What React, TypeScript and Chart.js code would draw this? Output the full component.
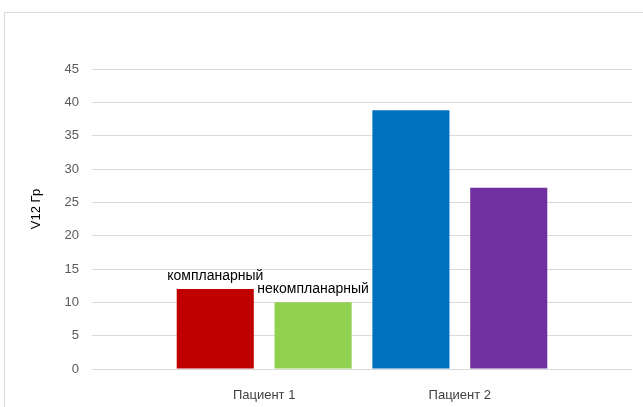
import React, { useEffect, useRef } from 'react';
import { Chart, registerables } from 'chart.js';

Chart.register(...registerables);

// ---- data ----
const categories = ['Пациент 1', 'Пациент 2'];
const seriesNames = ['компланарный', 'некомпланарный', 'компланарный', 'некомпланарный'];
const barPatient = [0, 0, 1, 1];
const barValues = [12, 10, 38.8, 27.2];
const barColors = ['#C00000', '#92D050', '#0070C0', '#7030A0'];
const showNameLabel = [true, true, false, false];
const yTitle = 'V12 Гр';
const yMin = 0;
const yMax = 45;
const yStep = 5;

const FONT = '"Liberation Sans", Arial, sans-serif';

const nameLabels = {
  id: 'nameLabels',
  afterDatasetsDraw(chart: any) {
    const meta = chart.getDatasetMeta(0);
    const ctx = chart.ctx;
    ctx.save();
    ctx.font = `14px ${FONT}`;
    ctx.fillStyle = '#000000';
    ctx.textAlign = 'center';
    ctx.textBaseline = 'middle';
    meta.data.forEach((bar: any, i: number) => {
      if (!showNameLabel[i]) return;
      ctx.fillText(seriesNames[i], bar.x, bar.y - 13);
    });
    ctx.restore();
  },
};

const yAxisTitle = {
  id: 'yAxisTitle',
  afterDraw(chart: any) {
    const ctx = chart.ctx;
    const { top, bottom } = chart.chartArea;
    ctx.save();
    ctx.translate(36, (top + bottom) / 2 - 10);
    ctx.rotate(-Math.PI / 2);
    ctx.font = `13px ${FONT}`;
    ctx.fillStyle = '#000000';
    ctx.textAlign = 'center';
    ctx.textBaseline = 'middle';
    ctx.fillText(yTitle, 0, 0);
    ctx.restore();
  },
};

export default function App() {
  const ref = useRef<HTMLCanvasElement | null>(null);

  useEffect(() => {
    if (!ref.current) return;
    const slots = barValues.map((_, i) => i + 1);
    const tickPositions = categories.map((_, c) => {
      const xs = slots.filter((_, i) => barPatient[i] === c);
      return xs.reduce((a, b) => a + b, 0) / xs.length;
    });
    const chart = new Chart(ref.current, {
      type: 'bar',
      data: {
        datasets: [
          {
            data: barValues.map((v, i) => ({ x: slots[i], y: v })),
            backgroundColor: barColors,
            borderWidth: 0,
            categoryPercentage: 1,
            barPercentage: 0.788,
          },
        ],
      },
      options: {
        animation: false,
        responsive: false,
        devicePixelRatio: 1,
        layout: { padding: { top: 69, right: 11, left: 0, bottom: 0 } },
        plugins: {
          legend: { display: false },
          tooltip: { enabled: false },
        },
        scales: {
          x: {
            type: 'linear',
            min: -0.26,
            max: 5.26,
            offset: false,
            grid: { display: false, offset: false },
            border: { display: false },
            afterBuildTicks: (scale: any) => {
              scale.ticks = tickPositions.map((v) => ({ value: v }));
            },
            afterFit: (scale: any) => {
              scale.height = 38;
            },
            ticks: {
              padding: 11,
              color: '#404040',
              font: { family: FONT, size: 13 },
              maxRotation: 0,
              autoSkip: false,
              callback: (v: any) => {
                const idx = tickPositions.indexOf(Number(v));
                return idx >= 0 ? categories[idx] : '';
              },
            },
          },
          y: {
            min: yMin,
            max: yMax,
            grid: { color: '#d9d9d9', drawTicks: false, lineWidth: 1 },
            border: { display: false },
            afterFit: (scale: any) => {
              scale.width = 92;
            },
            ticks: {
              stepSize: yStep,
              padding: 13,
              color: '#595959',
              font: { family: FONT, size: 13 },
            },
          },
        },
      },
      plugins: [nameLabels, yAxisTitle],
    });
    return () => chart.destroy();
  }, []);

  return (
    <div style={{ position: 'fixed', left: 0, top: 0, width: 643, height: 407, background: '#fff', overflow: 'hidden' }}>
      <div
        style={{
          position: 'absolute',
          left: 4,
          top: 12,
          width: 800,
          height: 600,
          border: '1px solid #d9d9d9',
          boxSizing: 'border-box',
        }}
      />
      <canvas ref={ref} width={643} height={407} style={{ position: 'absolute', left: 0, top: 0, width: 643, height: 407 }} />
    </div>
  );
}
